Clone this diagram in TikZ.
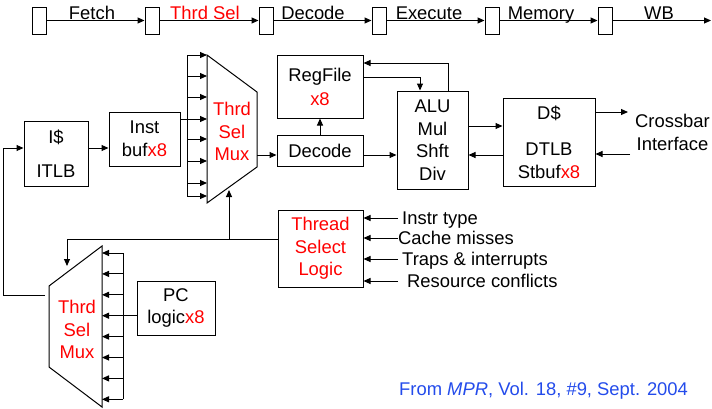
\documentclass[tikz,border=0pt]{standalone}
\usepackage{fontspec}
\setmainfont{Liberation Sans}
\usepackage{tikz}
\usetikzlibrary{arrows.meta}
\definecolor{citeblue}{RGB}{35,75,235}
\tikzstyle{blk} = [draw, line width=1pt, inner sep=0pt, align=center]
\tikzstyle{reg} = [draw, line width=1pt, minimum width=14pt, minimum height=27pt, inner sep=0pt]
\tikzstyle{wire} = [line width=1pt]
\tikzstyle{arr} = [line width=1pt, -{Triangle[length=7pt,width=6pt]}]
\tikzstyle{lbl} = [inner sep=0pt, anchor=base]
\tikzstyle{muxtxt} = [text=red, align=center, inner sep=0pt]
\newcommand{\xocho}{{\color{red}x8}}

\begin{document}
\begin{tikzpicture}[x=1pt, y=-1pt, font={\fontsize{18.4}{22.5}\selectfont}]
	\useasboundingbox (0,0) rectangle (712,408);
	% pipeline stages
	\foreach \i/\x in {1/39,2/152,3/266,4/379,5/492,6/605}
		\node[reg] (r\i) at (\x,20.5) {};
	\foreach \i/\j in {1/2,2/3,3/4,4/5,5/6}
		\draw[arr] (r\i.east) -- (r\j.west);
	\coordinate (wbend) at (711,20.5);
	\draw[arr] (r6.east) -- (wbend);
	\node[lbl] (stfetch) at (92,19) {Fetch};
	\node[lbl, text=red] (stsel) at (205,19) {Thrd Sel};
	\node[lbl] (stdec) at (313,19) {Decode};
	\node[lbl] (stexe) at (429,19) {Execute};
	\node[lbl] (stmem) at (541,19) {Memory};
	\node[lbl] (stwb) at (659,19) {WB};

	% thread select muxes
	\draw[wire] (207,55) -- (257,92) -- (257,167) -- (207,203) -- cycle;
	\node[muxtxt] (tmux) at (232,131.5) {Thrd\\Sel\\Mux};
	\foreach \i/\y in {1/55,2/76,3/97,4/119,5/139,6/161,7/183,8/196} {
		\coordinate (tbus\i) at (187,\y);
		\coordinate (tin\i) at (207,\y);
		\draw[arr] (tbus\i) -- (tin\i);
	}
	\draw[wire] (tbus1) -- (tbus8);

	\draw[wire] (102,246) -- (49,286) -- (49,367) -- (102,407) -- cycle;
	\node[muxtxt] (bmux) at (77,329.5) {Thrd\\Sel\\Mux};
	\foreach \i in {1,...,8} {
		\coordinate (bbus\i) at (123,{253+20.9*(\i-1)});
		\coordinate (bin\i) at (102,{253+20.9*(\i-1)});
		\draw[arr] (bbus\i) -- (bin\i);
	}
	\draw[wire] (bbus1) -- (bbus8);

	% blocks
	\node[blk, minimum width=64pt, minimum height=65pt] (icache) at (56,153.5) {I\$\\[12pt]ITLB};
	\node[blk, minimum width=71pt, minimum height=54pt] (instbuf) at (144.5,139) {Inst\\buf\xocho};
	\node[blk, minimum width=86pt, minimum height=63pt] (regfile) at (320,86.5) {RegFile\\[1.5pt]\xocho};
	\node[blk, minimum width=86pt, minimum height=31pt] (decode) at (320,150.5) {Decode};
	\node[blk, minimum width=71pt, minimum height=98pt] (alu) at (432.5,140) {ALU\\Mul\\Shft\\Div};
	\node[blk, minimum width=92pt, minimum height=88pt] (dcache) at (549,142) {D\$\\[14pt]DTLB\\Stbuf\xocho};
	\node[blk, minimum width=85pt, minimum height=77pt, text=red] (tsl) at (320.5,248.5) {Thread\\Select\\Logic};
	\node[blk, minimum width=78pt, minimum height=54pt] (pclogic) at (176,308) {PC\\logic\xocho};
	\node[align=center, inner sep=0pt] (xbar) at (672.5,132.5) {Crossbar\\Interface};

	% datapath
	\coordinate (mout) at (257,155);
	\draw[arr] (mout) -- (mout -| decode.west);
	\draw[arr] (mout -| decode.east) -- (mout -| alu.west);
	\draw[arr] (decode.north) -- (regfile.south);
	\draw[arr] ([yshift=9.5pt]regfile.east) -| ([xshift=-12.5pt]alu.north);
	\draw[arr] ([xshift=15.5pt]alu.north) |- ([yshift=23.5pt]regfile.east);
	\coordinate (a2d) at ([yshift=14pt]alu.east);
	\draw[arr] (a2d) -- (a2d -| dcache.west);
	\draw[arr] (mout -| dcache.west) -- (mout -| alu.east);
	\coordinate (xout) at (628,112);
	\coordinate (xin) at (630,154);
	\draw[arr] (xout -| dcache.east) -- (xout);
	\draw[arr] (xin) -- (xin -| dcache.east);

	\draw[wire] (tbus4 -| instbuf.east) -- (tbus4);
	\coordinate (fb) at (3,148);
	\draw[arr] (fb -| icache.east) -- (fb -| instbuf.west);
	\coordinate (bmout) at (45,295);
	\draw[arr] (bmout) -| (fb) -- (fb -| icache.west);
	\draw[wire] (pclogic.west |- bbus4) -- (bbus4);

	% thread select
	\coordinate (tsel) at ([yshift=9.5pt]tsl.west);
	\coordinate (tmsel) at (229,190);
	\coordinate (bmsel) at (67,266);
	\draw[arr] (tsel) -| (bmsel);
	\draw[arr] (tsel -| tmsel) -- (tmsel);
	\foreach \n/\y/\x/\t in {1/218/402/Instr type, 2/238/398/Cache misses, 3/259/402/Traps \& interrupts, 4/281/407/Resource conflicts} {
		\coordinate (sig\n) at (398,\y);
		\node[anchor=base west, inner sep=0pt] (sl\n) at (\x,\y+6) {\t};
		\draw[arr] (sig\n) -- (sig\n -| tsl.east);
	}

	\node[anchor=base west, inner sep=0pt, text=citeblue] (cite) at (399,395) {From \textit{MPR}, Vol. 18, \#9, Sept. 2004};
\end{tikzpicture}
\end{document}
